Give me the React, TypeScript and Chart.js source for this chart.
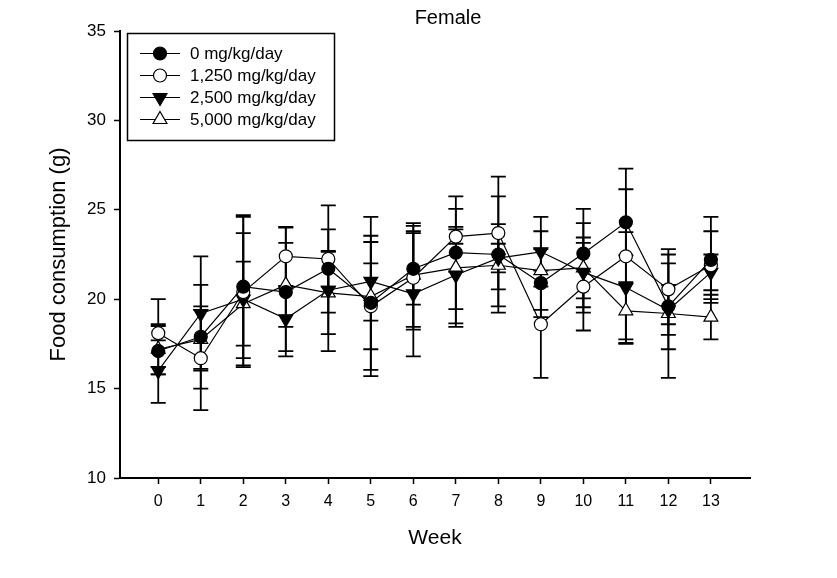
import React, { useEffect, useRef } from 'react';
import { Chart, registerables } from 'chart.js';

Chart.register(...registerables);

const weeks = [0, 1, 2, 3, 4, 5, 6, 7, 8, 9, 10, 11, 12, 13];
const seriesLabels = ['0 mg/kg/day', '1,250 mg/kg/day', '2,500 mg/kg/day', '5,000 mg/kg/day'];

const mean0 = [17.1, 17.9, 20.7, 20.4, 21.7, 19.8, 21.7, 22.6, 22.5, 20.9, 22.55, 24.3, 19.6, 22.2];
const sd0 = [2.9, 2.9, 4.0, 3.6, 1.0, 3.75, 2.0, 3.15, 3.25, 1.9, 2.5, 1.85, 2.4, 2.4];
const mean1250 = [18.1, 16.7, 20.4, 22.4, 22.25, 19.6, 21.2, 23.5, 23.7, 18.6, 20.7, 22.4, 20.55, 21.9];
const sd1250 = [0.4, 2.9, 4.2, 1.65, 3.0, 2.4, 2.9, 0.4, 3.15, 3.0, 2.45, 4.9, 1.95, 1.9];
const mean2500 = [16.0, 19.2, 20.0, 18.9, 20.5, 21.0, 20.3, 21.35, 22.3, 22.65, 21.5, 20.65, 19.4, 21.5];
const sd2500 = [0.2, 3.2, 3.7, 1.8, 3.4, 2.2, 3.5, 2.7, 0.8, 1.95, 1.95, 3.1, 1.4, 1.0];
const mean5000 = [17.2, 17.75, 19.75, 20.8, 20.35, 20.15, 21.35, 21.75, 21.9, 21.6, 21.75, 19.35, 19.2, 19.0];
const sd5000 = [1.4, 1.65, 2.35, 2.35, 2.3, 4.45, 2.9, 3.3, 2.3, 2.2, 2.5, 1.6, 3.6, 1.25];

const yTicks = [10, 15, 20, 25, 30, 35];

const means = [mean0, mean1250, mean2500, mean5000];
const sds = [sd0, sd1250, sd2500, sd5000];
const fills = ['#000000', '#ffffff', '#000000', '#ffffff'];
const styles = ['circle', 'circle', 'triangle', 'triangle'];
const rotations = [0, 0, 180, 0];
const radii = [6.5, 6.5, 8, 8];

const FONT = '"Liberation Sans", Arial, Helvetica, sans-serif';

function drawMarker(ctx: CanvasRenderingContext2D, i: number, x: number, y: number) {
  ctx.save();
  ctx.fillStyle = fills[i];
  ctx.strokeStyle = '#000';
  ctx.lineWidth = 1.2;
  ctx.beginPath();
  if (styles[i] === 'circle') {
    ctx.arc(x, y, radii[i], 0, Math.PI * 2);
  } else {
    const r = radii[i];
    let rad = (rotations[i] * Math.PI) / 180;
    for (let k = 0; k < 3; k++) {
      const px = x + Math.sin(rad) * r;
      const py = y - Math.cos(rad) * r;
      if (k === 0) ctx.moveTo(px, py);
      else ctx.lineTo(px, py);
      rad += (2 * Math.PI) / 3;
    }
    ctx.closePath();
  }
  ctx.fill();
  ctx.stroke();
  ctx.restore();
}

const errorBarPlugin = {
  id: 'errorBars',
  beforeDatasetsDraw(chart: any) {
    const ctx = chart.ctx;
    const xs = chart.scales.x;
    const ys = chart.scales.y;
    ctx.save();
    ctx.strokeStyle = '#000';
    ctx.lineWidth = 1.8;
    means.forEach((m, si) => {
      m.forEach((v, i) => {
        const sd = sds[si][i];
        const px = xs.getPixelForValue(weeks[i]);
        const top = ys.getPixelForValue(v + sd);
        const bot = ys.getPixelForValue(v - sd);
        ctx.beginPath();
        ctx.moveTo(px, top);
        ctx.lineTo(px, bot);
        ctx.moveTo(px - 7.5, top);
        ctx.lineTo(px + 7.5, top);
        ctx.moveTo(px - 7.5, bot);
        ctx.lineTo(px + 7.5, bot);
        ctx.stroke();
      });
    });
    ctx.restore();
  },
};

const decorPlugin = {
  id: 'decor',
  afterDraw(chart: any) {
    const ctx = chart.ctx;
    ctx.save();
    ctx.fillStyle = '#000';
    ctx.font = `20px ${FONT}`;
    ctx.textAlign = 'center';
    ctx.textBaseline = 'middle';
    ctx.fillText('Female', 448, 18);
    ctx.strokeStyle = '#000';
    ctx.lineWidth = 1.5;
    ctx.strokeRect(127.5, 33.5, 207, 107);
    ctx.font = `17px ${FONT}`;
    ctx.textAlign = 'left';
    seriesLabels.forEach((lab, i) => {
      const y = 53.5 + 22 * i;
      ctx.beginPath();
      ctx.lineWidth = 1.2;
      ctx.moveTo(140, y);
      ctx.lineTo(180, y);
      ctx.stroke();
      drawMarker(ctx, i, 160, y);
      ctx.fillStyle = '#000';
      ctx.fillText(lab, 190, y + 1);
    });
    ctx.restore();
  },
};

export default function App() {
  const ref = useRef<HTMLCanvasElement | null>(null);

  useEffect(() => {
    if (!ref.current) return;
    const datasets = means.map((m, si) => ({
      label: seriesLabels[si],
      data: m.map((v, i) => ({ x: weeks[i], y: v })),
      borderColor: '#000',
      borderWidth: 1.2,
      backgroundColor: fills[si],
      pointBackgroundColor: fills[si],
      pointBorderColor: '#000',
      pointBorderWidth: 1.2,
      pointRadius: radii[si],
      pointStyle: styles[si],
      pointRotation: rotations[si],
      fill: false,
      tension: 0,
    }));

    const chart = new Chart(ref.current, {
      type: 'line',
      data: { datasets } as any,
      options: {
        animation: false,
        responsive: false,
        layout: { padding: { left: 0, top: 31, right: 87, bottom: 0 } },
        plugins: {
          legend: { display: false },
          title: { display: false },
          tooltip: { enabled: false },
        },
        scales: {
          x: {
            type: 'linear',
            min: -0.9,
            max: 13.92,
            afterBuildTicks: (s: any) => {
              s.ticks = weeks.map((v) => ({ value: v }));
            },
            afterFit: (s: any) => {
              s.height = 100;
            },
            grid: {
              drawOnChartArea: false,
              drawTicks: true,
              tickLength: 6,
              tickColor: '#000',
              tickWidth: 1.5,
              color: '#000',
            },
            border: { display: true, color: '#000', width: 2 },
            ticks: {
              color: '#000',
              font: { family: FONT, size: 16 },
              padding: 8,
              autoSkip: false,
              maxRotation: 0,
            },
            title: {
              display: true,
              text: 'Week',
              color: '#000',
              font: { family: FONT, size: 21 },
              padding: { top: 0, bottom: 27 },
            },
          },
          y: {
            type: 'linear',
            min: 10,
            max: 35,
            afterBuildTicks: (s: any) => {
              s.ticks = yTicks.map((v) => ({ value: v }));
            },
            afterFit: (s: any) => {
              s.width = 120;
            },
            grid: {
              drawOnChartArea: false,
              drawTicks: true,
              tickLength: 6,
              tickColor: '#000',
              tickWidth: 1.5,
              color: '#000',
            },
            border: { display: true, color: '#000', width: 2 },
            ticks: {
              color: '#000',
              font: { family: FONT, size: 17 },
              padding: 8,
            },
            title: {
              display: true,
              text: 'Food consumption (g)',
              color: '#000',
              font: { family: FONT, size: 22 },
              padding: { top: 46, bottom: 0 },
            },
          },
        },
      } as any,
      plugins: [errorBarPlugin, decorPlugin],
    });
    return () => chart.destroy();
  }, []);

  return (
    <div style={{ position: 'absolute', left: 0, top: 0, width: 837, height: 578, background: '#fff' }}>
      <canvas ref={ref} width={837} height={578} style={{ display: 'block', width: 837, height: 578 }} />
    </div>
  );
}
